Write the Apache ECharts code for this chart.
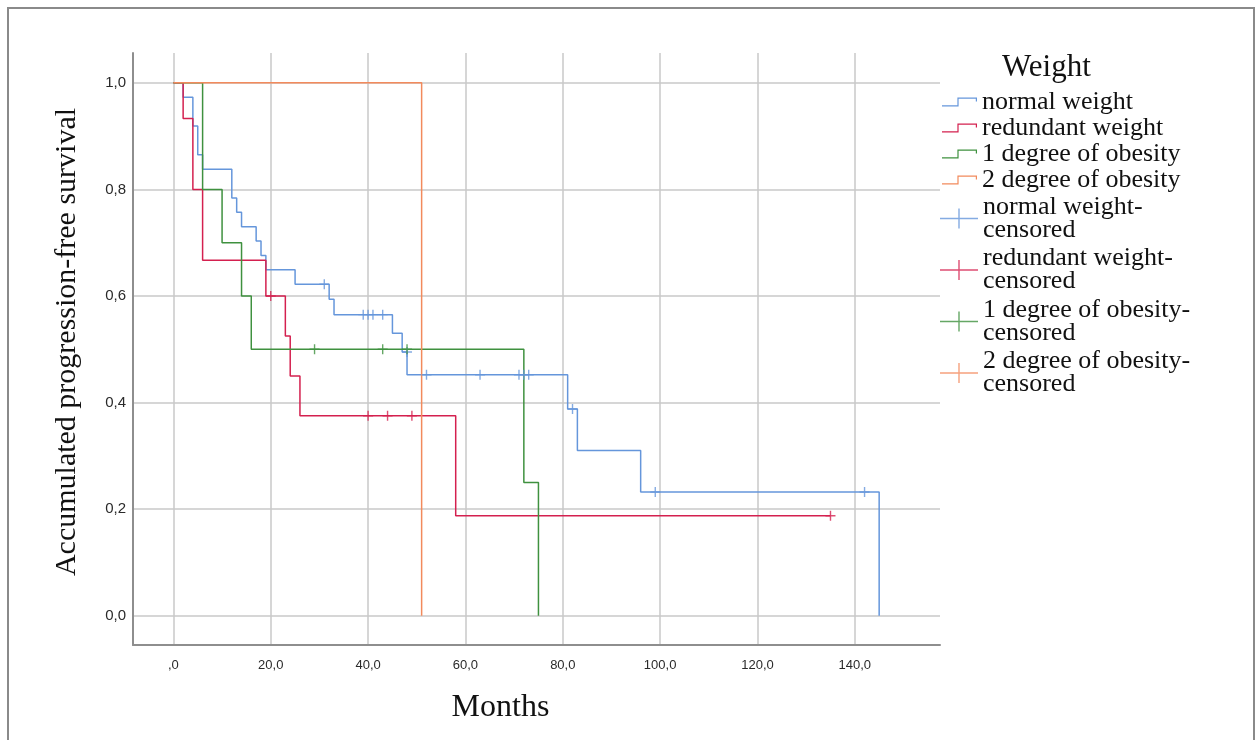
<!DOCTYPE html>
<html>
<head>
<meta charset="utf-8">
<title>Progression-free survival by weight</title>
<script src="https://cdn.jsdelivr.net/npm/echarts@6/dist/echarts.min.js"></script>
<style>
  html, body { margin: 0; padding: 0; background: #ffffff; }
  #chart { width: 1259px; height: 740px; }
</style>
</head>
<body>
<div id="chart"></div>
<script>
// Kaplan–Meier steps: [month, survival after the event at that month]
const normalWeightSteps = [[0, 1], [2, 0.973], [4, 0.919], [5, 0.865], [6, 0.838], [12, 0.784], [13, 0.757],
  [14, 0.730], [17, 0.703], [18, 0.676], [19, 0.649], [25, 0.622], [32, 0.594], [33, 0.565], [45, 0.530],
  [47, 0.495], [48, 0.452], [81, 0.388], [83, 0.310], [96, 0.232], [145, 0]];
const redundantWeightSteps = [[0, 1], [2, 0.933], [4, 0.8], [6, 0.667], [19, 0.6], [23, 0.525], [24, 0.45],
  [26, 0.375], [58, 0.1875], [135, 0.1875]];
const obesity1Steps = [[0, 1], [6, 0.8], [10, 0.7], [14, 0.6], [16, 0.5], [72, 0.25], [75, 0]];
const obesity2Steps = [[0, 1], [51, 0]];

// Censored observations: [month, survival]
const normalWeightCensored = [[31, 0.622], [39, 0.565], [40, 0.565], [41, 0.565], [43, 0.565], [48, 0.495],
  [52, 0.452], [63, 0.452], [71, 0.452], [72, 0.452], [73, 0.452], [82, 0.388], [99, 0.232], [142, 0.232]];
const redundantWeightCensored = [[20, 0.6], [40, 0.375], [44, 0.375], [49, 0.375], [135, 0.1875]];
const obesity1Censored = [[29, 0.5], [43, 0.5], [48, 0.5]];
const obesity2Censored = [];

const groupNames = ['normal weight', 'redundant weight', '1 degree of obesity', '2 degree of obesity'];
const censoredNames = groupNames.map(n => n + '-censored');
const groupColors = ['#6596db', '#d4204f', '#3f913f', '#f28a5c'];

const xTicks = [0, 20, 40, 60, 80, 100, 120, 140];
const yTicks = [0, 0.2, 0.4, 0.6, 0.8, 1.0];

const serifFont = "'Liberation Serif', 'Times New Roman', serif";
const sansFont = "'Liberation Sans', Arial, sans-serif";

const stepSets = [normalWeightSteps, redundantWeightSteps, obesity1Steps, obesity2Steps];
const censorSets = [normalWeightCensored, redundantWeightCensored, obesity1Censored, obesity2Censored];

// "+" mark for censored cases, step and cross glyphs for the legend
const plusMark = 'path://M0,4.3H10V5.7H0Z M4.3,0H5.7V10H4.3Z';
const stepIcon = 'path://M0,7.6H15.4V0H35V4H33.8V1.2H16.6V8.8H0Z';
const plusIcon = 'path://M0,9.3H38V10.7H0Z M18.3,0H19.7V20H18.3Z';

const lineSeries = stepSets.map((d, i) => ({
  name: groupNames[i],
  type: 'line',
  step: 'end',
  data: d,
  showSymbol: false,
  symbol: 'none',
  color: groupColors[i],
  lineStyle: { width: 1.5, color: groupColors[i] },
  emphasis: { disabled: true },
  silent: true,
  z: 3
}));

const censorSeries = censorSets.map((d, i) => ({
  name: censoredNames[i],
  type: 'scatter',
  data: d,
  symbol: plusMark,
  symbolSize: 10,
  color: groupColors[i],
  itemStyle: { color: groupColors[i] },
  emphasis: { disabled: true },
  silent: true,
  z: 4
}));

const decimalComma = v => v.toFixed(1).replace('.', ',');

const chart = echarts.init(document.getElementById('chart'), null, { renderer: 'canvas' });
chart.setOption({
  animation: false,
  backgroundColor: '#ffffff',
  title: {
    text: 'Weight',
    left: 1002,
    top: 52,
    padding: 0,
    textStyle: { fontFamily: serifFont, fontSize: 31, fontWeight: 'normal', color: '#111111' }
  },
  legend: [
    {
      data: groupNames,
      orient: 'vertical',
      left: 942,
      top: 89,
      padding: 0,
      itemGap: 0,
      itemWidth: 35,
      itemHeight: 9,
      icon: stepIcon,
      symbolKeepAspect: false,
      selectedMode: false,
      itemStyle: { borderWidth: 0 },
      textStyle: { fontFamily: serifFont, fontSize: 26, lineHeight: 26, color: '#111111' }
    },
    {
      data: censoredNames,
      orient: 'vertical',
      left: 940,
      top: 194,
      padding: 0,
      itemGap: 2.5,
      itemWidth: 38,
      itemHeight: 20,
      icon: plusIcon,
      symbolKeepAspect: false,
      selectedMode: false,
      itemStyle: { borderWidth: 0 },
      formatter: name => name.replace('-', '-\n'),
      textStyle: { fontFamily: serifFont, fontSize: 26, lineHeight: 23, color: '#111111' }
    }
  ],
  grid: { left: 133, right: 319, top: 53, bottom: 95, outerBoundsMode: 'none', containLabel: false },
  xAxis: {
    type: 'value',
    min: -8.3,
    max: 157.5,
    name: 'Months',
    nameLocation: 'middle',
    nameGap: 47,
    nameTextStyle: { fontFamily: serifFont, fontSize: 32, color: '#111111', padding: [0, 72, 0, 0] },
    axisLine: { onZero: false, lineStyle: { color: '#8e8e8e', width: 2 } },
    axisTick: { show: false, customValues: xTicks },
    axisLabel: {
      customValues: xTicks,
      margin: 14,
      fontFamily: sansFont,
      fontSize: 13,
      color: '#2a2a2a',
      formatter: v => (v === 0 ? ',0' : decimalComma(v))
    },
    splitLine: { show: true, lineStyle: { color: '#c8c8c8', width: 1.5 } }
  },
  yAxis: {
    type: 'value',
    min: -0.055,
    max: 1.056,
    name: 'Accumulated progression-free survival',
    nameLocation: 'middle',
    nameGap: 51,
    nameTextStyle: { fontFamily: serifFont, fontSize: 30, color: '#111111', padding: [0, 0, 0, 14] },
    axisLine: { onZero: false, lineStyle: { color: '#8e8e8e', width: 2 } },
    axisTick: { show: false, customValues: yTicks },
    axisLabel: {
      customValues: yTicks,
      margin: 7,
      fontFamily: sansFont,
      fontSize: 15,
      color: '#2a2a2a',
      formatter: decimalComma
    },
    splitLine: { show: true, lineStyle: { color: '#c8c8c8', width: 1.5 } }
  },
  graphic: [
    {
      type: 'rect',
      silent: true,
      shape: { x: 8, y: 8, width: 1246, height: 745 },
      style: { fill: 'none', stroke: '#8a8a8a', lineWidth: 2 }
    }
  ],
  series: lineSeries.concat(censorSeries)
});
</script>
</body>
</html>
